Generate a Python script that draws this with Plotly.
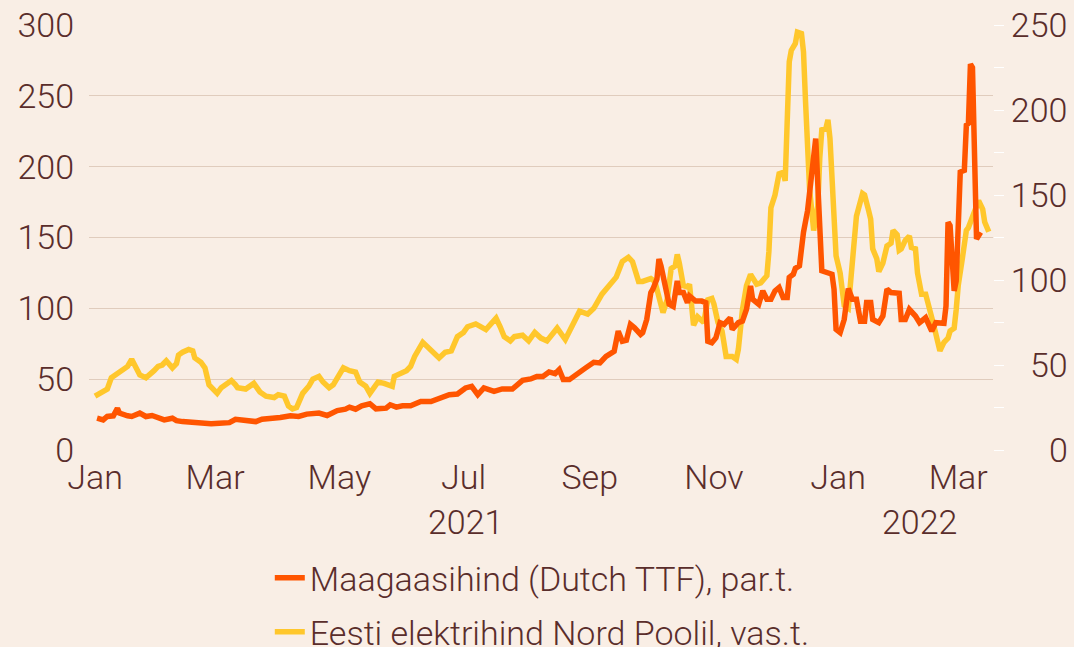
import plotly.graph_objects as go

# ---------------- data ----------------
gas_dates = [
    "2021-01-02", "2021-01-05", "2021-01-07", "2021-01-10", "2021-01-12", "2021-01-13", "2021-01-17",
    "2021-01-19", "2021-01-23", "2021-01-26", "2021-01-29", "2021-02-01", "2021-02-04", "2021-02-08",
    "2021-02-10", "2021-02-13", "2021-02-17", "2021-02-22", "2021-02-27", "2021-03-03", "2021-03-08",
    "2021-03-11", "2021-03-15", "2021-03-21", "2021-03-24", "2021-03-28", "2021-04-02", "2021-04-07",
    "2021-04-11", "2021-04-15", "2021-04-21", "2021-04-25", "2021-04-30", "2021-05-04", "2021-05-06",
    "2021-05-09", "2021-05-12", "2021-05-16", "2021-05-19", "2021-05-24", "2021-05-26", "2021-05-29",
    "2021-06-01", "2021-06-05", "2021-06-10", "2021-06-15", "2021-06-19", "2021-06-24", "2021-06-28",
    "2021-07-02", "2021-07-05", "2021-07-08", "2021-07-11", "2021-07-16", "2021-07-20", "2021-07-25",
    "2021-07-30", "2021-08-03", "2021-08-06", "2021-08-09", "2021-08-12", "2021-08-15", "2021-08-17",
    "2021-08-19", "2021-08-22", "2021-08-26", "2021-08-30", "2021-09-03", "2021-09-06", "2021-09-09",
    "2021-09-12", "2021-09-13", "2021-09-15", "2021-09-17", "2021-09-19", "2021-09-21", "2021-09-23",
    "2021-09-26", "2021-09-27", "2021-09-29", "2021-10-01", "2021-10-02", "2021-10-04", "2021-10-05",
    "2021-10-06", "2021-10-08", "2021-10-10", "2021-10-12", "2021-10-14", "2021-10-15", "2021-10-17",
    "2021-10-19", "2021-10-20", "2021-10-23", "2021-10-26", "2021-10-28", "2021-10-29", "2021-10-31",
    "2021-11-02", "2021-11-04", "2021-11-06", "2021-11-09", "2021-11-10", "2021-11-13", "2021-11-15",
    "2021-11-17", "2021-11-19", "2021-11-20", "2021-11-23", "2021-11-25", "2021-11-27", "2021-11-29",
    "2021-12-01", "2021-12-03", "2021-12-05", "2021-12-07", "2021-12-08", "2021-12-10", "2021-12-11",
    "2021-12-13", "2021-12-15", "2021-12-17", "2021-12-21", "2021-12-24", "2021-12-26", "2021-12-29",
    "2021-12-30", "2021-12-31", "2022-01-02", "2022-01-04", "2022-01-06", "2022-01-08", "2022-01-10",
    "2022-01-12", "2022-01-14", "2022-01-15", "2022-01-17", "2022-01-18", "2022-01-21", "2022-01-23",
    "2022-01-25", "2022-01-27", "2022-01-31", "2022-02-01", "2022-02-03", "2022-02-05", "2022-02-08",
    "2022-02-10", "2022-02-13", "2022-02-16", "2022-02-18", "2022-02-22", "2022-02-23", "2022-02-24",
    "2022-02-25", "2022-02-27", "2022-02-28", "2022-03-02", "2022-03-04", "2022-03-05", "2022-03-06",
    "2022-03-07", "2022-03-08", "2022-03-09", "2022-03-10", "2022-03-12",
]
gas_values = [
    18.7, 17.7, 19.7, 20.1, 24.6, 21.7, 20.1,
    19.7, 21.7, 19.7, 20.3, 18.7, 17.7, 18.7,
    17.3, 16.7, 16.1, 15.8, 15.4, 15.8, 16.1,
    18.1, 17.7, 16.7, 18.1, 18.3, 19.1, 20.1,
    19.7, 21.1, 21.7, 20.3, 23.2, 24.0, 25.2,
    24.0, 26.0, 27.2, 24.2, 24.6, 26.6, 25.2,
    26.0, 26.0, 28.5, 28.5, 30.0, 32.5, 32.9,
    36.5, 37.4, 32.5, 36.5, 34.5, 35.9, 35.9,
    41.0, 41.8, 43.3, 43.3, 45.9, 44.9, 47.3,
    41.4, 41.4, 45.3, 48.3, 51.6, 51.2, 55.1,
    58.1, 58.1, 69.9, 64.0, 64.6, 73.9, 71.9,
    68.0, 69.0, 76.8, 92.6, 94.6, 100.5, 112.3,
    108.3, 95.6, 85.7, 84.4, 99.5, 92.6, 92.6,
    86.7, 90.6, 87.6, 87.6, 86.7, 64.0, 63.1,
    66.0, 74.9, 73.9, 77.8, 70.9, 74.9, 75.8,
    82.7, 96.5, 88.7, 85.7, 93.6, 88.7, 88.7,
    93.6, 95.6, 89.7, 89.7, 101.5, 103.4, 106.8,
    108.3, 128.1, 140.8, 183.2, 105.4, 104.4, 103.4,
    94.6, 70.9, 69.0, 76.8, 95.0, 88.7, 88.7,
    75.8, 75.8, 86.7, 86.7, 76.8, 74.9, 78.8,
    94.6, 92.6, 92.2, 76.8, 76.8, 82.7, 78.8,
    74.9, 77.8, 69.9, 74.9, 74.5, 84.7, 134.0,
    132.0, 93.6, 99.5, 163.5, 164.5, 191.1, 192.1,
    227.0, 225.0, 175.0, 124.1, 128.1,
]

power_dates = [
    "2021-01-01", "2021-01-04", "2021-01-07", "2021-01-09", "2021-01-12", "2021-01-14", "2021-01-17",
    "2021-01-19", "2021-01-21", "2021-01-23", "2021-01-26", "2021-01-28", "2021-01-30", "2021-02-01",
    "2021-02-03", "2021-02-05", "2021-02-07", "2021-02-08", "2021-02-10", "2021-02-11", "2021-02-13",
    "2021-02-16", "2021-02-18", "2021-02-19", "2021-02-22", "2021-02-24", "2021-02-26", "2021-03-02",
    "2021-03-04", "2021-03-07", "2021-03-09", "2021-03-11", "2021-03-12", "2021-03-16", "2021-03-20",
    "2021-03-23", "2021-03-26", "2021-03-30", "2021-04-01", "2021-04-04", "2021-04-06", "2021-04-08",
    "2021-04-10", "2021-04-13", "2021-04-16", "2021-04-18", "2021-04-21", "2021-04-23", "2021-04-26",
    "2021-04-28", "2021-05-01", "2021-05-03", "2021-05-06", "2021-05-09", "2021-05-11", "2021-05-14",
    "2021-05-16", "2021-05-18", "2021-05-20", "2021-05-23", "2021-05-27", "2021-05-28", "2021-05-31",
    "2021-06-03", "2021-06-05", "2021-06-07", "2021-06-11", "2021-06-15", "2021-06-19", "2021-06-22",
    "2021-06-25", "2021-06-28", "2021-07-01", "2021-07-03", "2021-07-07", "2021-07-12", "2021-07-14",
    "2021-07-17", "2021-07-19", "2021-07-21", "2021-07-24", "2021-07-26", "2021-07-30", "2021-08-02",
    "2021-08-05", "2021-08-08", "2021-08-11", "2021-08-14", "2021-08-16", "2021-08-20", "2021-08-23",
    "2021-08-27", "2021-08-31", "2021-09-03", "2021-09-07", "2021-09-11", "2021-09-14", "2021-09-17",
    "2021-09-20", "2021-09-22", "2021-09-25", "2021-09-27", "2021-10-01", "2021-10-03", "2021-10-05",
    "2021-10-07", "2021-10-09", "2021-10-11", "2021-10-13", "2021-10-14", "2021-10-15", "2021-10-17",
    "2021-10-19", "2021-10-20", "2021-10-22", "2021-10-24", "2021-10-27", "2021-10-29", "2021-10-31",
    "2021-11-01", "2021-11-03", "2021-11-05", "2021-11-07", "2021-11-10", "2021-11-12", "2021-11-13",
    "2021-11-15", "2021-11-17", "2021-11-19", "2021-11-20", "2021-11-22", "2021-11-24", "2021-11-27",
    "2021-11-28", "2021-11-29", "2021-12-01", "2021-12-03", "2021-12-05", "2021-12-06", "2021-12-08",
    "2021-12-09", "2021-12-11", "2021-12-12", "2021-12-14", "2021-12-15", "2021-12-16", "2021-12-17",
    "2021-12-18", "2021-12-20", "2021-12-22", "2021-12-23", "2021-12-24", "2021-12-26", "2021-12-27",
    "2021-12-28", "2021-12-30", "2021-12-31", "2022-01-02", "2022-01-04", "2022-01-06", "2022-01-08",
    "2022-01-10", "2022-01-13", "2022-01-14", "2022-01-16", "2022-01-17", "2022-01-18", "2022-01-20",
    "2022-01-21", "2022-01-23", "2022-01-25", "2022-01-27", "2022-01-28", "2022-01-30", "2022-01-31",
    "2022-02-01", "2022-02-03", "2022-02-05", "2022-02-06", "2022-02-08", "2022-02-09", "2022-02-11",
    "2022-02-13", "2022-02-15", "2022-02-17", "2022-02-19", "2022-02-20", "2022-02-22", "2022-02-24",
    "2022-02-25", "2022-02-27", "2022-02-28", "2022-03-01", "2022-03-03", "2022-03-05", "2022-03-06",
    "2022-03-08", "2022-03-10", "2022-03-11", "2022-03-13", "2022-03-14", "2022-03-16",
]
power_values = [
    38, 41, 43, 51, 54, 56, 59,
    64, 59, 53, 51, 53, 56, 59,
    60, 63, 60, 58, 61, 67, 69,
    71, 70, 65, 62, 58, 46, 40,
    44, 47, 49, 46, 44, 43, 47,
    41, 38, 37, 39, 38, 31, 29,
    30, 40, 45, 50, 52, 48, 44,
    46, 54, 58, 56, 55, 48, 45,
    40, 44, 48, 47, 45, 52, 54,
    56, 59, 66, 76, 70, 65, 69,
    70, 80, 83, 87, 89, 85, 88,
    93, 87, 80, 77, 80, 81, 77,
    83, 79, 77, 82, 86, 78, 86,
    98, 96, 100, 110, 117, 122, 133,
    136, 133, 119, 119, 121, 119, 106,
    97, 106, 128, 130, 138, 132, 116,
    115, 117, 88, 94, 90, 106, 107,
    103, 90, 84, 66, 66, 64, 71,
    99, 116, 124, 122, 117, 118, 123,
    140, 171, 180, 195, 196, 190, 274,
    282, 287, 295, 294, 281, 246, 203,
    184, 155, 172, 206, 226, 227, 233,
    220, 151, 137, 125, 102, 100, 128,
    165, 181, 180, 169, 163, 142, 135,
    126, 132, 144, 146, 155, 152, 141,
    142, 148, 151, 143, 142, 125, 110,
    110, 97, 88, 76, 70, 76, 79,
    84, 86, 99, 116, 135, 155, 157,
    166, 172, 176, 170, 161, 154,
]

month_ticks = ["2021-01-01", "2021-03-01", "2021-05-01", "2021-07-01",
               "2021-09-01", "2021-11-01", "2022-01-01", "2022-03-01"]
month_labels = ["Jan", "Mar", "May", "Jul", "Sep", "Nov", "Jan", "Mar"]
year_labels = ["2021", "2022"]
year_centres = ["2021-07-02", "2022-02-10"]
left_ticks = [0, 50, 100, 150, 200, 250, 300]
right_ticks = [0, 50, 100, 150, 200, 250]
right_labels = ["\u2007\u20070", "\u200750", "100", "150", "200", "250"]

gas_name = "Maagaasihind (Dutch TTF), par.t."
power_name = "Eesti elektrihind Nord Poolil, vas.t."

# ---------------- style ----------------
BG = "#f9eee5"
GRID = "#e0ccbd"
TEXT = "#5a2d2b"
ORANGE = "#ff5500"
YELLOW = "#ffc72c"
FONT = "Roboto"
FS = 34

fig = go.Figure()
fig.add_trace(go.Scatter(
    x=power_dates, y=power_values, name=power_name, mode="lines",
    line=dict(color=YELLOW, width=5.5), legendrank=2, legendgroup="p",
))
fig.add_trace(go.Scatter(
    x=gas_dates, y=gas_values, name=gas_name, mode="lines", yaxis="y2",
    line=dict(color=ORANGE, width=5.5), legendrank=1, legendgroup="g",
))

for label, centre in zip(year_labels, year_centres):
    fig.add_annotation(x=centre, xref="x", y=-0.169, yref="paper",
                       text=label, showarrow=False, yanchor="middle",
                       font=dict(family=FONT, size=FS, color=TEXT, weight=300))

fig.update_layout(
    width=1074, height=647,
    paper_bgcolor=BG, plot_bgcolor=BG,
    margin=dict(l=89, r=81, t=25, b=197, autoexpand=False),
    font=dict(family=FONT, size=FS, color=TEXT, weight=300),
    showlegend=True,
    legend=dict(x=0.2, y=-0.233, xanchor="left", yanchor="top",
                orientation="v", tracegroupgap=7, bgcolor="rgba(0,0,0,0)",
                font=dict(family=FONT, size=FS, color=TEXT, weight=300)),
    xaxis=dict(type="date", range=["2020-12-29 01:00", "2022-03-18 02:00"],
               tickmode="array", tickvals=month_ticks, ticktext=month_labels,
               showgrid=False, zeroline=False, showline=False, ticks="",
               ticklabelstandoff=4, automargin=False),
    yaxis=dict(range=[0, 300], tickmode="array", tickvals=left_ticks,
               showgrid=True, gridcolor=GRID, gridwidth=1, zeroline=False,
               showline=False, ticks="", ticklabelstandoff=14, automargin=False),
    yaxis2=dict(range=[0, 250], overlaying="y", side="right",
                tickmode="array", tickvals=right_ticks, ticktext=right_labels,
                showgrid=False, zeroline=False, showline=False,
                ticks="outside", ticklen=10, tickcolor="white", tickwidth=1,
                automargin=False,
                minor=dict(tickmode="linear", tick0=0, dtick=25, ticks="outside",
                           ticklen=10, tickcolor="white", tickwidth=1)),
)

fig.write_html("out.html", config={"displayModeBar": False},
               post_script="document.body.style.margin='0';")
